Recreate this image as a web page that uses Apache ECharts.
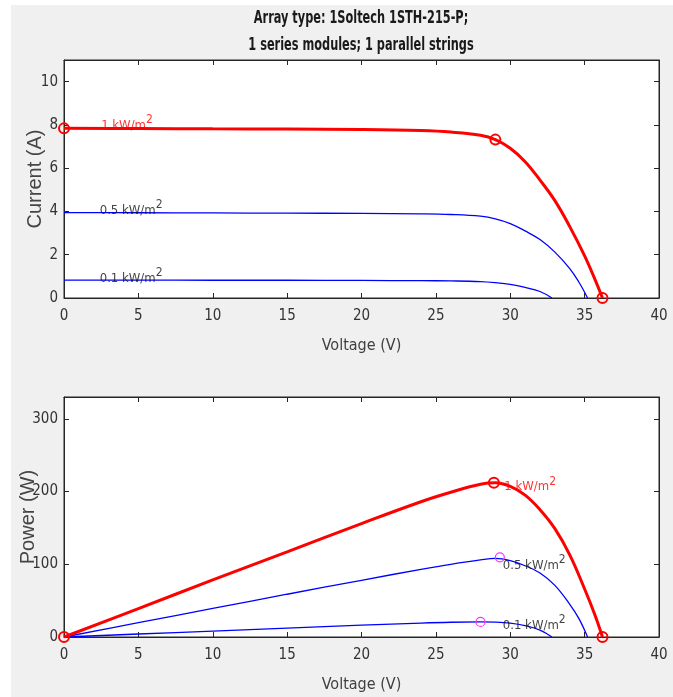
<!DOCTYPE html>
<html>
<head>
<meta charset="utf-8">
<script src="https://cdn.jsdelivr.net/npm/echarts@6/dist/echarts.min.js"></script>
<style>
  html, body { margin: 0; padding: 0; background: #fff; }
  #bg { position: absolute; left: 11px; top: 5px; right: 0; bottom: 0; background: #f0f0f0; }
  #chart { position: absolute; left: 0; top: 0; width: 673px; height: 697px; }
</style>
</head>
<body>
<div id="bg"></div>
<div id="chart"></div>
<script>
// I-V / P-V curves, one set per irradiance
const voltage1 = [0, 5, 10, 15, 20, 24, 26, 28, 29, 30, 31, 32, 33, 34, 35, 35.7, 36.2];
const current1 = [7.84, 7.83, 7.82, 7.81, 7.79, 7.74, 7.67, 7.52, 7.32, 6.92, 6.3, 5.45, 4.5, 3.3, 1.95, 0.85, 0];
const power1 = [0, 39, 78.5, 117, 156, 186, 199, 210, 212, 207, 195, 175, 149, 113, 66, 30, 0];

const voltage2 = [0, 5, 10, 15, 20, 24, 26, 28, 29, 30, 31, 32, 33, 34, 34.6, 35.2];
const current2 = [3.95, 3.94, 3.93, 3.92, 3.91, 3.89, 3.86, 3.78, 3.66, 3.44, 3.1, 2.7, 2.12, 1.36, 0.75, 0];
const power2 = [0, 19.7, 39.3, 58.8, 78, 93, 100, 106, 108, 105, 98, 88, 71, 45, 26, 0];

const voltage3 = [0, 5, 10, 15, 20, 24, 26, 28, 29, 30, 31, 32, 32.8];
const current3 = [0.83, 0.83, 0.82, 0.82, 0.81, 0.8, 0.79, 0.76, 0.71, 0.63, 0.49, 0.3, 0];
const power3 = [0, 4.1, 8.2, 12.3, 16.2, 19.2, 20.3, 20.7, 20.4, 19, 15.5, 9.5, 0];

// circle markers (Isc, MPP, Voc)
const ivMarkers = [[0, 7.84], [29, 7.32], [36.2, 0]];
const pvMarkers = [[0, 0], [28.9, 212], [36.2, 0]];
const pvMppMarkers = [[29.3, 109.5], [28.0, 20.7]];

const irradiance = ['1', '0.5', '0.1'];
const titleLines = ['Array type: 1Soltech 1STH-215-P;', '1 series modules; 1 parallel strings'];

const NARROW = '"DejaVu Sans Condensed", "Liberation Sans Narrow", "Liberation Sans", sans-serif';
const AXIS_COLOR = '#262626';

function pairs(xs, ys) {
  return xs.map((x, i) => [x, ys[i]]);
}

function labelText(g) {
  return '{b|' + g + ' kW/m}{s|2}';
}

const richLabel = (color) => ({
  b: { fontFamily: NARROW, fontSize: 13, color: color, lineHeight: 14, verticalAlign: 'bottom' },
  s: { fontFamily: NARROW, fontSize: 12, color: color, lineHeight: 12, verticalAlign: 'bottom', padding: [0, 0, 6, 0] }
});

function bottomAxis(gridIndex) {
  return {
    type: 'value', gridIndex: gridIndex, position: 'bottom',
    min: 0, max: 40, interval: 5,
    name: 'Voltage (V)', nameLocation: 'middle', nameGap: 40, nameMoveOverlap: false,
    nameTextStyle: { fontFamily: NARROW, fontSize: 16, color: '#404040' },
    axisLine: { show: true, onZero: false, lineStyle: { color: AXIS_COLOR } },
    axisTick: { show: true, inside: true, length: 5, lineStyle: { color: AXIS_COLOR } },
    axisLabel: { margin: 11, fontFamily: NARROW, fontSize: 15, color: '#333' },
    splitLine: { show: false }
  };
}

function topAxis(gridIndex) {
  return {
    type: 'value', gridIndex: gridIndex, position: 'top',
    min: 0, max: 40, interval: 5,
    axisLine: { show: true, onZero: false, lineStyle: { color: AXIS_COLOR } },
    axisTick: { show: true, inside: true, length: 5, lineStyle: { color: AXIS_COLOR } },
    axisLabel: { show: false },
    splitLine: { show: false }
  };
}

function leftAxis(gridIndex, max, interval, name, gap) {
  return {
    type: 'value', gridIndex: gridIndex, position: 'left',
    min: 0, max: max, interval: interval,
    name: name, nameLocation: 'middle', nameGap: gap, nameRotate: 90, nameMoveOverlap: false,
    nameTextStyle: { fontFamily: '"Liberation Sans", Arial, sans-serif', fontSize: 20, color: '#454545' },
    axisLine: { show: true, onZero: false, lineStyle: { color: AXIS_COLOR } },
    axisTick: { show: true, inside: true, length: 5, lineStyle: { color: AXIS_COLOR } },
    axisLabel: { margin: 6, showMaxLabel: false, fontFamily: NARROW, fontSize: 15, color: '#333' },
    splitLine: { show: false }
  };
}

function rightAxis(gridIndex, max, interval) {
  return {
    type: 'value', gridIndex: gridIndex, position: 'right',
    min: 0, max: max, interval: interval,
    axisLine: { show: true, onZero: false, lineStyle: { color: AXIS_COLOR } },
    axisTick: { show: true, inside: true, length: 5, lineStyle: { color: AXIS_COLOR } },
    axisLabel: { show: false },
    splitLine: { show: false }
  };
}

function curve(axisIdx, data, color, width) {
  return {
    type: 'line', xAxisIndex: axisIdx, yAxisIndex: axisIdx,
    data: data, showSymbol: false, symbol: 'none',
    smooth: 0.4,
    lineStyle: { color: color, width: width },
    silent: true, z: width > 2 ? 4 : 3
  };
}

function circles(axisIdx, data, color, size, border) {
  return {
    type: 'scatter', xAxisIndex: axisIdx, yAxisIndex: axisIdx,
    data: data, symbol: 'circle', symbolSize: size,
    itemStyle: { color: 'rgba(0,0,0,0)', borderColor: color, borderWidth: border, opacity: 1 },
    silent: true, z: 6
  };
}

function labels(axisIdx, items) {
  return {
    type: 'scatter', xAxisIndex: axisIdx, yAxisIndex: axisIdx,
    symbolSize: 0, silent: true, z: 5,
    data: items.map(it => ({
      value: it.at,
      label: {
        show: true, position: 'inside', align: 'left', verticalAlign: 'middle',
        formatter: labelText(it.g), rich: richLabel(it.color)
      }
    }))
  };
}

// title drawn as squeezed text to get the narrow look of the original
function titleText(line, y) {
  return {
    type: 'text', x: 361, y: y, scaleX: 0.7, silent: true,
    style: {
      text: line, fill: '#1a1a1a', align: 'center', verticalAlign: 'middle',
      font: 'bold 18px ' + NARROW
    }
  };
}

const chart = echarts.init(document.getElementById('chart'), null, { renderer: 'canvas' });

chart.setOption({
  backgroundColor: 'transparent',
  animation: false,
  graphic: [titleText(titleLines[0], 18), titleText(titleLines[1], 45)],
  grid: [
    { left: 64, top: 60, width: 595, height: 238, show: true, backgroundColor: '#fff', borderColor: AXIS_COLOR, borderWidth: 1, outerBoundsMode: 'none' },
    { left: 64, top: 397, width: 595, height: 240, show: true, backgroundColor: '#fff', borderColor: AXIS_COLOR, borderWidth: 1, outerBoundsMode: 'none' }
  ],
  xAxis: [bottomAxis(0), bottomAxis(1), topAxis(0), topAxis(1)],
  yAxis: [
    leftAxis(0, 11, 2, 'Current (A)', 19),
    leftAxis(1, 330, 100, 'Power (W)', 26),
    rightAxis(0, 11, 2),
    rightAxis(1, 330, 100)
  ],
  series: [
    curve(0, pairs(voltage2, current2), '#0000ff', 1.3),
    curve(0, pairs(voltage3, current3), '#0000ff', 1.3),
    curve(0, pairs(voltage1, current1), '#ff0000', 3),
    circles(0, ivMarkers, '#ff0000', 10, 2),
    labels(0, [
      { at: [2.5, 8.0], g: irradiance[0], color: '#ff0000' },
      { at: [2.4, 4.05], g: irradiance[1], color: '#111' },
      { at: [2.4, 0.93], g: irradiance[2], color: '#111' }
    ]),

    curve(1, pairs(voltage2, power2), '#0000ff', 1.3),
    curve(1, pairs(voltage3, power3), '#0000ff', 1.3),
    curve(1, pairs(voltage1, power1), '#ff0000', 3),
    circles(1, pvMarkers, '#ff0000', 10, 2),
    circles(1, pvMppMarkers, '#ff33ff', 9, 1.2),
    labels(1, [
      { at: [29.6, 207], g: irradiance[0], color: '#ff0000' },
      { at: [29.5, 99], g: irradiance[1], color: '#111' },
      { at: [29.5, 16], g: irradiance[2], color: '#111' }
    ])
  ]
});
</script>
</body>
</html>
